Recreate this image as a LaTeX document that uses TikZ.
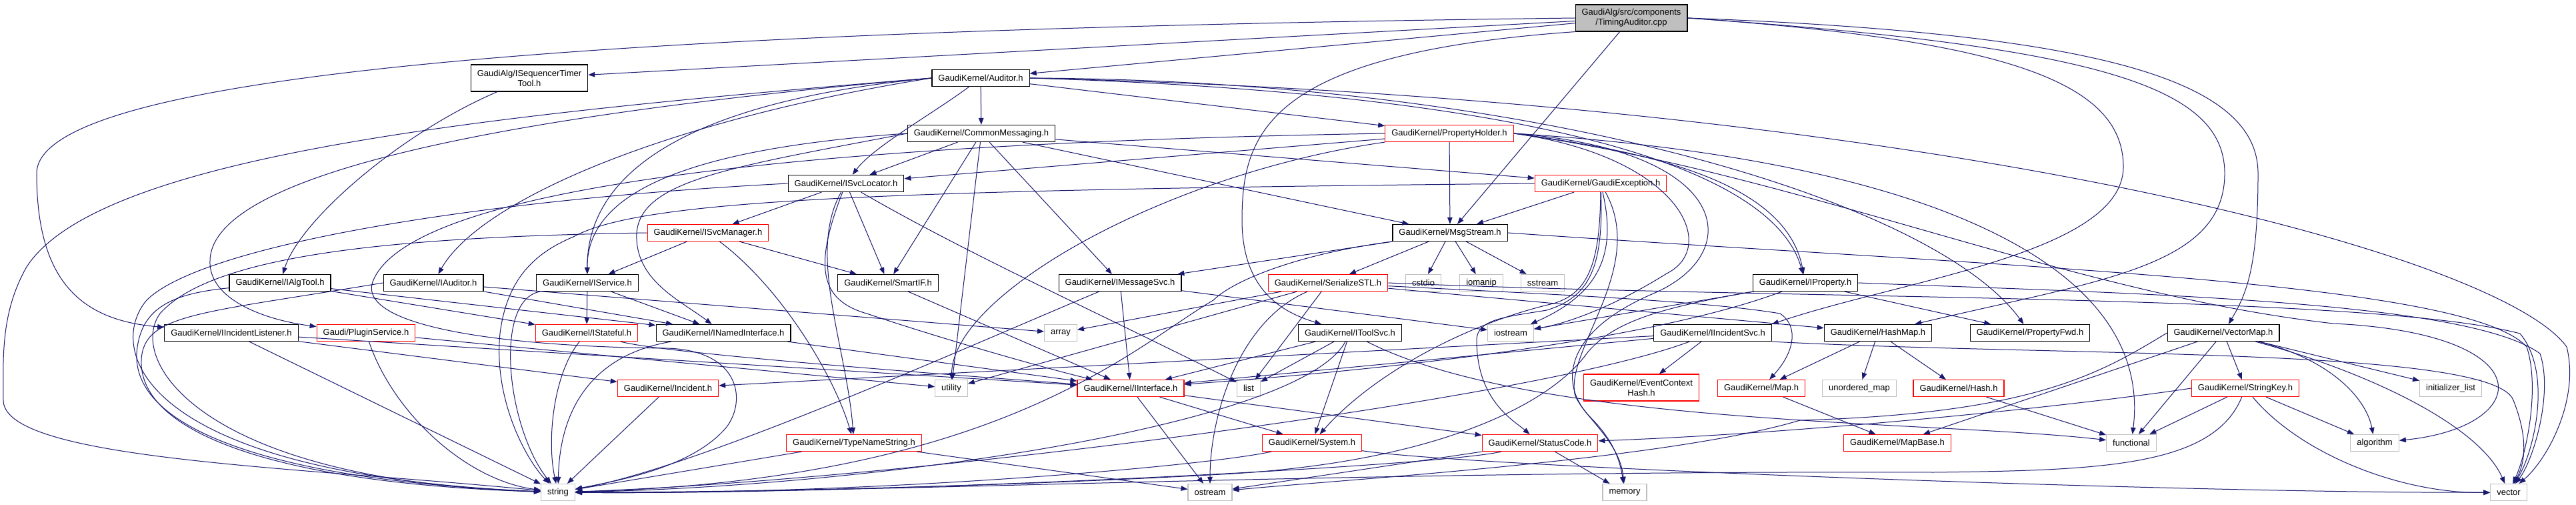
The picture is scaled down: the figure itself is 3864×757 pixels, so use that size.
\documentclass[tikz,border=0pt]{standalone}
\usepackage{fontspec}
\setmainfont{Liberation Sans}
\usepackage{xcolor}
\usetikzlibrary{arrows.meta}
\definecolor{edgeblue}{HTML}{191970}
\definecolor{sysgray}{HTML}{BFBFBF}
\tikzset{%
	hdr/.style     = {draw=black, rectangle, line width=1.2pt, minimum height=25pt, inner xsep=9.5pt, inner ysep=2pt, text centered, font=\fontsize{13}{15}\selectfont},
	hdrred/.style  = {hdr, draw=red},
	hdrsys/.style  = {hdr, draw=sysgray},
	twoline/.style = {align=center, minimum height=40pt},
	srcfile/.style = {hdr, twoline, fill=sysgray},
	dep/.style     = {draw=edgeblue, line width=1pt, -{Triangle[length=10pt,width=7.5pt]}},
}
\begin{document}
\begin{tikzpicture}[x=1pt,y=-1pt]
	\path[use as bounding box, fill=white] (0,0) rectangle (3864,757);
	
	\node[srcfile] (timing) at (2447,27) {GaudiAlg/src/components\\/TimingAuditor.cpp};
	\node[hdr, twoline] (seqtool) at (794,117) {GaudiAlg/ISequencerTimer\\Tool.h};
	\node[hdr] (auditor) at (1471,117) {GaudiKernel/Auditor.h};
	\node[hdr] (commsg) at (1472,200) {GaudiKernel/CommonMessaging.h};
	\node[hdrred] (propholder) at (2174,200) {GaudiKernel/PropertyHolder.h};
	\node[hdr] (svcloc) at (1269,275) {GaudiKernel/ISvcLocator.h};
	\node[hdrred] (gexc) at (2401,275) {GaudiKernel/GaudiException.h};
	\node[hdrred] (svcmgr) at (1062,349) {GaudiKernel/ISvcManager.h};
	\node[hdr] (msgstream) at (2175,349) {GaudiKernel/MsgStream.h};
	\node[hdr] (ialgtool) at (420,424) {GaudiKernel/IAlgTool.h};
	\node[hdr] (iauditor) at (650,424) {GaudiKernel/IAuditor.h};
	\node[hdr] (iservice) at (881,424) {GaudiKernel/IService.h};
	\node[hdr] (smartif) at (1332,424) {GaudiKernel/SmartIF.h};
	\node[hdr] (imsgsvc) at (1680,424) {GaudiKernel/IMessageSvc.h};
	\node[hdrred] (serialize) at (1992,424) {GaudiKernel/SerializeSTL.h};
	\node[hdrsys] (cstdio) at (2135,424) {cstdio};
	\node[hdrsys] (iomanip) at (2222,424) {iomanip};
	\node[hdrsys] (sstream) at (2314,424) {sstream};
	\node[hdr] (iproperty) at (2708,424) {GaudiKernel/IProperty.h};
	\node[hdr] (iinclistener) at (347,499) {GaudiKernel/IIncidentListener.h};
	\node[hdrred] (pluginsvc) at (549,499) {Gaudi/PluginService.h};
	\node[hdrred] (istateful) at (880,499) {GaudiKernel/IStateful.h};
	\node[hdr] (inamed) at (1085,499) {GaudiKernel/INamedInterface.h};
	\node[hdrsys] (array) at (1591,499) {array};
	\node[hdr] (itoolsvc) at (2025,499) {GaudiKernel/IToolSvc.h};
	\node[hdrsys] (iostream) at (2266,499) {iostream};
	\node[hdr] (iincsvc) at (2569,499) {GaudiKernel/IIncidentSvc.h};
	\node[hdr] (hashmap) at (2817,499) {GaudiKernel/HashMap.h};
	\node[hdr] (propfwd) at (3045,499) {GaudiKernel/PropertyFwd.h};
	\node[hdr] (vectormap) at (3335,499) {GaudiKernel/VectorMap.h};
	\node[hdrred] (incident) at (1002,582) {GaudiKernel/Incident.h};
	\node[hdrsys] (utility) at (1427,582) {utility};
	\node[hdrred] (iinterface) at (1696,582) {GaudiKernel/IInterface.h};
	\node[hdrsys] (list) at (1873,582) {list};
	\node[hdrred, twoline] (evctxhash) at (2462,581) {GaudiKernel/EventContext\\Hash.h};
	\node[hdrred] (map) at (2642,582) {GaudiKernel/Map.h};
	\node[hdrsys] (umap) at (2789,582) {unordered\_map};
	\node[hdrred] (hash) at (2938,582) {GaudiKernel/Hash.h};
	\node[hdrred] (stringkey) at (3368,582) {GaudiKernel/StringKey.h};
	\node[hdrsys] (initlist) at (3676,582) {initializer\_list};
	\node[hdrred] (typename) at (1281,664) {GaudiKernel/TypeNameString.h};
	\node[hdrred] (system) at (1968,664) {GaudiKernel/System.h};
	\node[hdrred] (statuscode) at (2310,664) {GaudiKernel/StatusCode.h};
	\node[hdrred] (mapbase) at (2846,664) {GaudiKernel/MapBase.h};
	\node[hdrsys] (functional) at (3197,664) {functional};
	\node[hdrsys] (algorithm) at (3562,664) {algorithm};
	\node[hdrsys] (string) at (837,738) {string};
	\node[hdrsys] (ostream) at (1815,738) {ostream};
	\node[hdrsys] (memory) at (2437,738) {memory};
	\node[hdrsys] (vector) at (3763,738) {vector};
	
	\foreach \src/\dst in {timing/seqtool, timing/auditor, timing/msgstream,
		auditor/commsg, auditor/propholder,
		commsg/svcloc, commsg/smartif, commsg/utility, commsg/imsgsvc, commsg/msgstream, commsg/gexc,
		propholder/msgstream, propholder/svcloc, gexc/msgstream,
		svcloc/svcmgr, svcloc/smartif, svcmgr/iservice, svcmgr/smartif,
		msgstream/imsgsvc, msgstream/serialize, msgstream/cstdio, msgstream/iomanip, msgstream/sstream,
		imsgsvc/iinterface, imsgsvc/iostream,
		serialize/array, serialize/utility, serialize/list, serialize/hashmap,
		iproperty/propfwd, iproperty/iostream,
		vectormap/stringkey, vectormap/functional, vectormap/initlist, vectormap/mapbase,
		stringkey/functional, stringkey/algorithm,
		iincsvc/evctxhash, iincsvc/incident, iincsvc/iinterface,
		hashmap/map, hashmap/umap, hashmap/hash, map/mapbase, hash/functional,
		itoolsvc/system, itoolsvc/iinterface, itoolsvc/list,
		iinterface/ostream, iinterface/system, iinterface/statuscode,
		statuscode/ostream, statuscode/memory,
		typename/string, typename/ostream, incident/string,
		inamed/iinterface, smartif/iinterface,
		iservice/istateful, iservice/inamed, ialgtool/istateful, ialgtool/inamed,
		iauditor/inamed, iauditor/array,
		iinclistener/iinterface, iinclistener/string, iinclistener/incident,
		pluginsvc/utility}
		\draw[dep] (\src) -- (\dst);
	
	\draw[dep] (timing.west) .. controls (900,45) and (55,110) .. (55,260) .. controls (55,420) and (120,480) .. (iinclistener);
	\draw[dep] (timing.south west) .. controls (1900,80) and (1863,200) .. (1863,330) .. controls (1863,440) and (1930,470) .. (itoolsvc);
	\draw[dep] (timing.east) .. controls (3150,50) and (3387,120) .. (3387,260) .. controls (3387,400) and (3370,440) .. (vectormap);
	\draw[dep] (timing.east) .. controls (3150,70) and (3337,130) .. (3337,260) .. controls (3337,400) and (3150,420) .. (hashmap);
	\draw[dep] (timing.east) .. controls (3000,60) and (3185,120) .. (3185,250) .. controls (3185,380) and (2850,420) .. (iincsvc.north east);
	\draw[dep] (seqtool) .. controls (600,200) and (450,330) .. (ialgtool);
	\draw[dep] (auditor) .. controls (1400,170) and (1310,220) .. (svcloc);
	\draw[dep] (auditor.west) .. controls (1000,180) and (720,300) .. (iauditor);
	\draw[dep] (auditor.west) .. controls (1050,150) and (880,250) .. (iservice);
	\draw[dep] (auditor.west) .. controls (900,160) and (320,240) .. (315,390) .. controls (312,450) and (400,480) .. (pluginsvc);
	\draw[dep] (auditor.west) .. controls (750,170) and (150,230) .. (40,400) .. controls (0,470) and (5,540) .. (5,600) .. controls (5,690) and (450,700) .. (string);
	\draw[dep] (auditor.east) .. controls (2300,120) and (2900,300) .. (propfwd);
	\draw[dep] (auditor.east) .. controls (2300,140) and (2660,250) .. (iproperty);
	\draw[dep] (auditor.east) .. controls (2900,150) and (3750,380) .. (3850,520) .. controls (3870,600) and (3820,690) .. (vector);
	\draw[dep] (commsg.west) .. controls (1000,225) and (880,300) .. (iservice);
	\draw[dep] (commsg.west) .. controls (1100,250) and (960,270) .. (955,350) .. controls (952,420) and (1020,450) .. (inamed);
	\draw[dep] (propholder.east) .. controls (2500,230) and (2680,280) .. (iproperty);
	\draw[dep] (propholder.south west) .. controls (1750,260) and (1430,440) .. (utility);
	\draw[dep] (propholder.east) .. controls (2600,225) and (2620,380) .. (2480,440) .. controls (2340,500) and (2340,580) .. (2386,626) .. controls (2420,660) and (2430,690) .. (memory);
	\draw[dep] (propholder.east) .. controls (2520,235) and (2580,370) .. (2500,410) .. controls (2420,460) and (2350,485) .. (iostream);
	\draw[dep] (propholder.east) .. controls (2900,240) and (3230,400) .. (functional);
	\draw[dep] (propholder.east) .. controls (2700,260) and (3100,440) .. (3500,485) .. controls (3820,500) and (3800,640) .. (algorithm);
	\draw[dep] (propholder.west) .. controls (1200,215) and (620,280) .. (560,420) .. controls (530,490) and (760,520) .. (1000,522) .. controls (1110,525) and (1120,600) .. (1090,640) .. controls (1040,700) and (930,720) .. (string);
	\draw[dep] (gexc) .. controls (2405,400) and (2385,445) .. (2320,465) .. controls (2260,475) and (2215,478) .. (2215,510) .. controls (2215,600) and (2270,630) .. (statuscode);
	\draw[dep] (gexc) .. controls (2425,380) and (2400,440) .. (iostream);
	\draw[dep] (gexc) .. controls (2470,400) and (2350,520) .. (2362,590) .. controls (2370,620) and (2430,660) .. (memory);
	\draw[dep] (gexc) .. controls (2400,400) and (2380,440) .. (2330,455) .. controls (2200,485) and (2060,560) .. (system);
	\draw[dep] (gexc.west) .. controls (1300,285) and (960,300) .. (860,355) .. controls (800,380) and (760,420) .. (750,500) .. controls (740,600) and (790,690) .. (string);
	\draw[dep] (svcloc) .. controls (1210,380) and (1270,520) .. (typename);
	\draw[dep] (svcloc) .. controls (1220,400) and (1230,450) .. (1300,470) .. controls (1450,520) and (1600,560) .. (iinterface);
	\draw[dep] (svcloc) .. controls (1450,380) and (1650,470) .. (list);
	\draw[dep] (svcloc.west) .. controls (700,300) and (300,370) .. (220,450) .. controls (160,520) and (200,710) .. (string);
	\draw[dep] (svcmgr) .. controls (1170,430) and (1250,560) .. (typename);
	\draw[dep] (svcmgr.west) .. controls (600,355) and (320,380) .. (240,470) .. controls (190,540) and (300,720) .. (string);
	\draw[dep] (msgstream.south west) .. controls (1950,380) and (1850,420) .. (1820,450) .. controls (1700,520) and (1500,720) .. (string);
	\draw[dep] (msgstream.east) .. controls (3000,400) and (3700,420) .. (3790,520) .. controls (3810,580) and (3790,680) .. (vector);
	\draw[dep] (imsgsvc) .. controls (1450,520) and (1050,700) .. (string);
	\draw[dep] (serialize) .. controls (1860,480) and (1815,620) .. (ostream);
	\draw[dep] (serialize) .. controls (2300,440) and (2550,450) .. (2670,470) .. controls (2700,490) and (2690,530) .. (map);
	\draw[dep] (serialize.east) .. controls (2700,450) and (3550,440) .. (3780,500) .. controls (3830,560) and (3800,680) .. (vector);
	\draw[dep] (iproperty) .. controls (2450,520) and (2000,560) .. (iinterface);
	\draw[dep] (iproperty.south west) .. controls (2500,460) and (2420,480) .. (2380,530) .. controls (2330,600) and (2170,690) .. (1850,710) .. controls (1500,730) and (1100,738) .. (string);
	\draw[dep] (iproperty.east) .. controls (3200,440) and (3700,450) .. (3810,530) .. controls (3830,590) and (3800,690) .. (vector);
	\draw[dep] (vectormap) .. controls (3500,540) and (3550,600) .. (algorithm);
	\draw[dep] (vectormap) .. controls (3560,560) and (3720,640) .. (vector);
	\draw[dep] (vectormap.west) .. controls (3150,560) and (3050,620) .. (2700,630) .. controls (2500,690) and (2000,720) .. (ostream);
	\draw[dep] (stringkey) .. controls (3450,680) and (3600,740) .. (vector);
	\draw[dep] (stringkey.west) .. controls (3100,610) and (2700,650) .. (statuscode);
	\draw[dep] (stringkey) .. controls (3320,700) and (3150,705) .. (2900,708) .. controls (2000,705) and (1300,740) .. (string);
	\draw[dep] (iincsvc.south east) .. controls (3100,535) and (3740,520) .. (3770,600) .. controls (3790,650) and (3790,690) .. (vector);
	\draw[dep] (iincsvc) .. controls (2300,600) and (1350,720) .. (string);
	\draw[dep] (itoolsvc) .. controls (1950,640) and (1300,730) .. (string);
	\draw[dep] (itoolsvc) .. controls (2300,640) and (2900,630) .. (functional);
	\draw[dep] (system) .. controls (1800,700) and (1300,742) .. (string);
	\draw[dep] (system) .. controls (2200,700) and (3300,740) .. (vector);
	\draw[dep] (statuscode) .. controls (2150,700) and (1300,742) .. (string);
	\draw[dep] (istateful) .. controls (1000,530) and (1400,560) .. (iinterface);
	\draw[dep] (istateful) .. controls (830,560) and (820,660) .. (string);
	\draw[dep] (inamed) .. controls (900,530) and (840,600) .. (string);
	\draw[dep] (iservice) .. controls (740,450) and (760,640) .. (string);
	\draw[dep] (ialgtool) .. controls (260,440) and (210,460) .. (205,530) .. controls (200,640) and (400,720) .. (string);
	\draw[dep] (iauditor.west) .. controls (300,470) and (215,470) .. (212,540) .. controls (208,650) and (420,725) .. (string);
	\draw[dep] (pluginsvc) .. controls (590,620) and (700,720) .. (string);
\end{tikzpicture}
\end{document}
